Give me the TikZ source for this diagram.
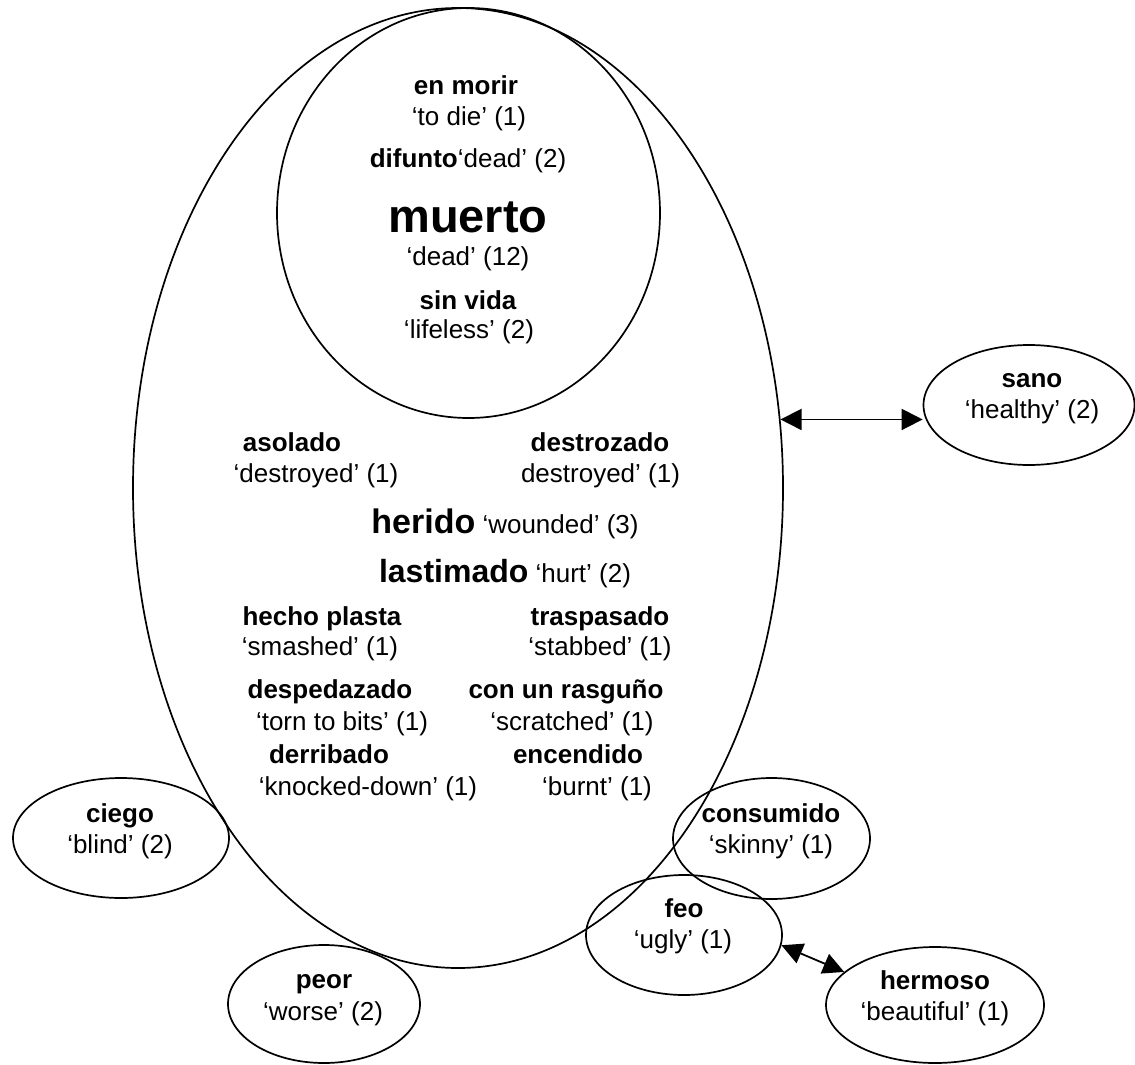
\documentclass[tikz,border=0pt]{standalone}
\usepackage{fontspec}
\setmainfont{Liberation Sans}
\usetikzlibrary{shapes.geometric,arrows.meta}
\tikzset{
  oval/.style={draw, ellipse, line width=1.7pt, inner sep=0pt},
  wd/.style={anchor=base, inner sep=0pt, font=\fontsize{26}{30}\selectfont\bfseries},
  gl/.style={anchor=base, inner sep=0pt, font=\fontsize{26}{30}\selectfont},
  dbl/.style={{Triangle[length=21pt,width=21pt]}-{Triangle[length=21pt,width=21pt]}, line width=1.8pt}
}
\begin{document}
\begin{tikzpicture}[x=1pt,y=-1pt]
\useasboundingbox (0,0) rectangle (1135,1065);
% main fields
\node[oval, minimum width=650pt, minimum height=960pt] (field) at (458,488) {};
\node[oval, minimum width=383pt, minimum height=410pt] (core) at (468.5,213) {};
% core
\node[wd] (enmorir) at (466,94) {en morir};
\node[gl] (enmorir-g) at (469,125) {‘to die’ (1)};
\node[gl] (difunto) at (468,167) {\textbf{difunto}‘dead’ (2)};
\node[wd, font=\fontsize{47}{52}\selectfont\bfseries] (muerto) at (468,232) {muerto};
\node[gl] (muerto-g) at (468,265) {‘dead’ (12)};
\node[wd] (sinvida) at (468,309) {sin vida};
\node[gl] (sinvida-g) at (469,338) {‘lifeless’ (2)};
% field
\node[wd] (asolado) at (292,451) {asolado};
\node[gl] (asolado-g) at (316,482) {‘destroyed’ (1)};
\node[wd] (destrozado) at (600,451) {destrozado};
\node[gl] (destrozado-g) at (600.5,482) {destroyed’ (1)};
\node[gl] (herido) at (505,533) {{\fontsize{34}{40}\selectfont\bfseries herido} ‘wounded’ (3)};
\node[gl] (lastimado) at (505,582) {{\fontsize{32}{38}\selectfont\bfseries lastimado} ‘hurt’ (2)};
\node[wd] (hecho) at (322,625) {hecho plasta};
\node[gl] (hecho-g) at (320,655) {‘smashed’ (1)};
\node[wd] (traspasado) at (600,625) {traspasado};
\node[gl] (traspasado-g) at (600,655) {‘stabbed’ (1)};
\node[wd] (despedazado) at (330,698) {despedazado};
\node[gl] (despedazado-g) at (342,730) {‘torn to bits’ (1)};
\node[wd] (rasguno) at (566,698) {con un rasguño};
\node[gl] (rasguno-g) at (572,730) {‘scratched’ (1)};
\node[wd] (derribado) at (329,763) {derribado};
\node[gl] (derribado-g) at (368,795) {‘knocked-down’ (1)};
\node[wd] (encendido) at (578,763) {encendido};
\node[gl] (encendido-g) at (597,795) {‘burnt’ (1)};
% outer ovals
\node[oval, minimum width=211pt, minimum height=120pt] (sano) at (1029,405) {};
\node[wd] (sano-w) at (1032,387) {sano};
\node[gl] (sano-g) at (1032,418) {‘healthy’ (2)};
\node[oval, minimum width=216pt, minimum height=120pt] (ciego) at (121,838) {};
\node[wd] (ciego-w) at (120,822) {ciego};
\node[gl] (ciego-g) at (120,853) {‘blind’ (2)};
\node[oval, minimum width=192pt, minimum height=118pt] (peor) at (324,1004) {};
\node[wd] (peor-w) at (324,988) {peor};
\node[gl] (peor-g) at (323,1020) {‘worse’ (2)};
\node[oval, minimum width=197pt, minimum height=121pt] (consumido) at (771.5,838.5) {};
\node[wd] (consumido-w) at (771,822) {consumido};
\node[gl] (consumido-g) at (771,853) {‘skinny’ (1)};
\node[oval, minimum width=196pt, minimum height=120pt] (feo) at (684,935) {};
\node[wd] (feo-w) at (684,917) {feo};
\node[gl] (feo-g) at (683,948) {‘ugly’ (1)};
\node[oval, minimum width=218pt, minimum height=116pt] (hermoso) at (935,1005) {};
\node[wd] (hermoso-w) at (935,989) {hermoso};
\node[gl] (hermoso-g) at (935,1020) {‘beautiful’ (1)};
% connectors
\draw[dbl] (field.12.4) -- (field.12.4 -| sano.west);
\draw[dbl] (feo.-6) -- (hermoso.160);
\end{tikzpicture}
\end{document}
